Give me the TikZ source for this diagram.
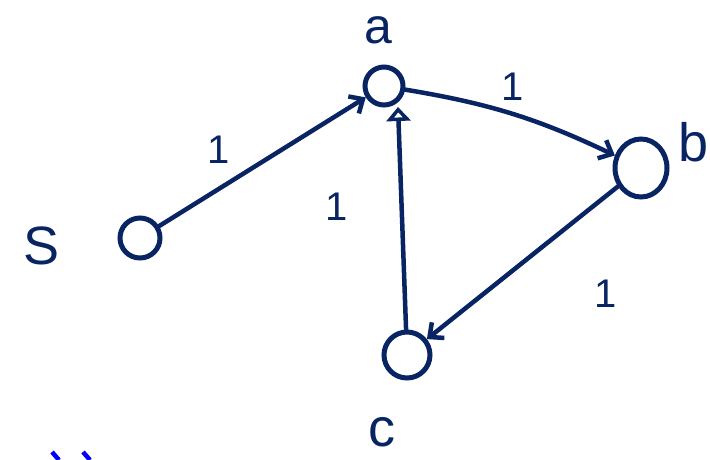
\documentclass[tikz,border=0pt]{standalone}
\usepackage{fontspec}
\setmainfont{Liberation Sans}
\usetikzlibrary{arrows.meta,shapes.geometric}
\definecolor{ink}{RGB}{8,36,98}
\begin{document}
\begin{tikzpicture}[x=1pt,y=-1pt,
  vert/.style={draw=ink, line width=5pt, circle, inner sep=0pt},
  lbl/.style={text=ink, inner sep=0pt, font=\fontsize{54}{54}\selectfont},
  wt/.style={text=ink, font=\fontsize{40}{40}\selectfont},
  edge/.style={draw=ink, line width=4.5pt, line cap=round, -{Straight Barb[length=11pt,width=20pt,line width=4.5pt]}}]
\useasboundingbox (0,0) rectangle (710,459);
\node[vert, minimum size=40pt] (s) at (140,238) {};
\node[vert, minimum size=38pt] (a) at (384,86) {};
\node[draw=ink, line width=5pt, inner sep=0pt, ellipse, minimum width=52pt, minimum height=58pt] (b) at (641,168) {};
\node[vert, minimum size=46pt] (c) at (407,355) {};
\node[lbl] (ls) at (42,246) {S};
\node[lbl, font=\fontsize{50}{50}\selectfont] (la) at (378,30) {a};
\node[lbl] (lb) at (694,142) {b};
\node[lbl] (lc) at (382,432) {c};
\draw[edge] (s) -- (a) node[wt, pos=0.4, above left=6pt] (w1) {1};
\draw[edge] (a) to[bend left=8] node[wt, above=8pt] (w2) {1} (b);
\draw[draw=ink, line width=4.5pt, line cap=round, -{Triangle[open,length=14pt,width=24pt,line width=4.5pt]}] (c) -- (398,107) node[wt, pos=0.55, left=48pt] (w3) {1};
\draw[edge] (b) -- (c) node[wt, pos=0.7, right=105pt] (w4) {1};
\coordinate (m1) at (52,452);
\coordinate (m2) at (59,460);
\coordinate (m3) at (83,452);
\coordinate (m4) at (90,460);
\draw[blue, line width=4.5pt] (m1) -- (m2) (m3) -- (m4);
\end{tikzpicture}
\end{document}
